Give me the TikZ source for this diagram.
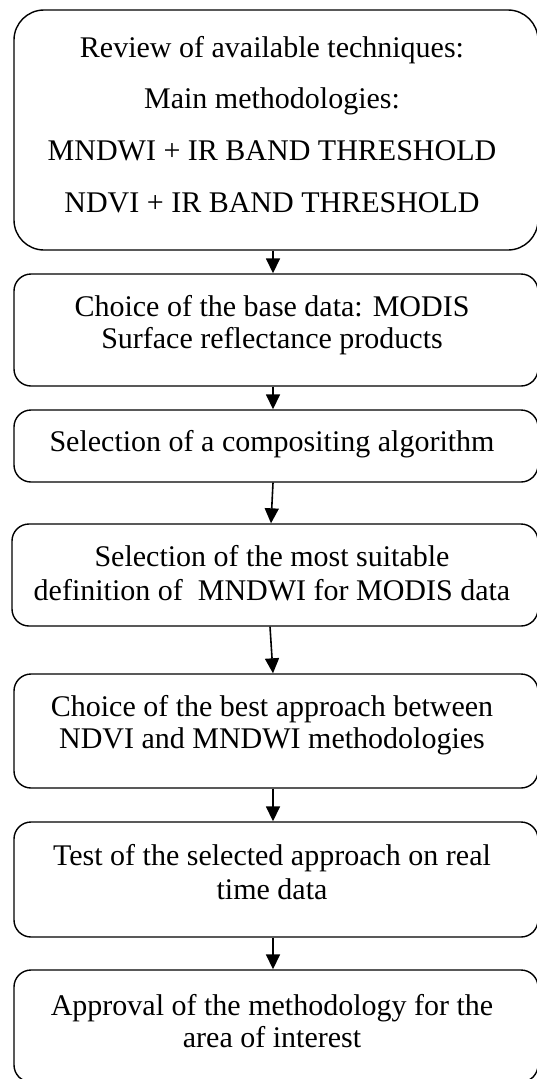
\documentclass[tikz,border=0pt]{standalone}
\usepackage{fontspec}
\setmainfont{Liberation Serif}
\usetikzlibrary{arrows.meta}
\begin{document}
\begin{tikzpicture}[x=1pt,y=-1pt,
  box/.style={draw, line width=1.4pt, rounded corners=17pt, minimum width=524pt, inner sep=0pt},
  bigbox/.style={box, rounded corners=30pt},
  txt/.style={anchor=base, inner sep=0pt, font=\fontsize{30}{34}\selectfont},
  conn/.style={line width=1.6pt, -{Triangle[width=14pt,length=15pt]}}]
\useasboundingbox (0,0) rectangle (536,1079);
\node[bigbox, minimum height=240pt] (b1) at (276,130) {};
\node[box, minimum height=112pt] (b2) at (276,330) {};
\node[box, minimum height=72pt] (b3) at (276,446) {};
\node[box, minimum height=102pt, minimum width=526pt] (b4) at (275,575) {};
\node[box, minimum height=114pt] (b5) at (276,731) {};
\node[box, minimum height=115pt] (b6) at (276,879.5) {};
\node[box, minimum height=112pt] (b7) at (276,1026) {};
\node[txt] (t1a) at (272,57) {Review of available techniques:};
\node[txt] (t1b) at (272,108.5) {Main methodologies:};
\node[txt] (t1c) at (272,160) {MNDWI + IR BAND THRESHOLD};
\node[txt] (t1d) at (272,212) {NDVI + IR BAND THRESHOLD};
\node[txt] (t2a) at (272,316.5) {Choice of the base data: MODIS};
\node[txt] (t2b) at (272,348) {Surface reflectance products};
\node[txt] (t3a) at (272,451.5) {Selection of a compositing algorithm};
\node[txt] (t4a) at (272,566.5) {Selection of the most suitable};
\node[txt] (t4b) at (272,600) {definition of\ \ MNDWI for MODIS data};
\node[txt] (t5a) at (272,716.5) {Choice of the best approach between};
\node[txt] (t5b) at (272,748) {NDVI and MNDWI methodologies};
\node[txt] (t6a) at (272,865.5) {Test of the selected approach on real};
\node[txt] (t6b) at (272,899) {time data};
\node[txt] (t7a) at (272,1015) {Approval of the methodology for the};
\node[txt] (t7b) at (272,1047) {area of interest};
\draw[conn] ([xshift=-3pt]b1.south) -- ([xshift=-3pt]b2.north);
\draw[conn] ([xshift=-3pt]b2.south) -- ([xshift=-3pt]b3.north);
\draw[conn] ([xshift=-3pt]b3.south) -- ([xshift=-4pt]b4.north);
\draw[conn] ([xshift=-5pt]b4.south) -- ([xshift=-3pt]b5.north);
\draw[conn] ([xshift=-3pt]b5.south) -- ([xshift=-3pt]b6.north);
\draw[conn] ([xshift=-3pt]b6.south) -- ([xshift=-3pt]b7.north);
\end{tikzpicture}
\end{document}
